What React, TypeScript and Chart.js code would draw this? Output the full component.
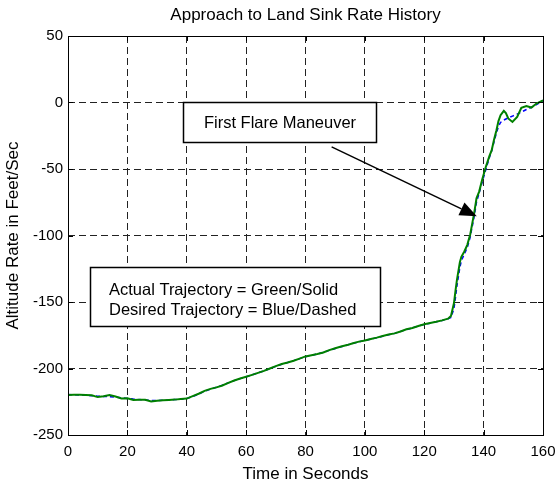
import React, { useEffect, useRef } from "react";
import { Chart, registerables } from "chart.js";

Chart.register(...registerables);

const chartTitle = "Approach to Land Sink Rate History";
const xAxisTitle = "Time in Seconds";
const yAxisTitle = "Altitude Rate in Feet/Sec";
const flareLabel = "First Flare Maneuver";
const noteLines = ["Actual Trajectory = Green/Solid", "Desired Trajectory = Blue/Dashed"];

const xTicks = [0, 20, 40, 60, 80, 100, 120, 140, 160];
const yTicks = [-250, -200, -150, -100, -50, 0, 50];

const timeSec = [
  0, 2, 4, 6, 8, 10, 12, 14, 16, 18, 20, 22, 24, 26, 28, 30, 32, 34, 36, 38,
  40, 42, 44, 46, 48, 50, 52, 54, 56, 58, 60, 62, 64, 66, 68, 70, 72, 74, 76, 78,
  80, 82, 84, 86, 88, 90, 92, 94, 96, 98, 100, 102, 104, 106, 108, 110, 112, 114, 116, 118,
  120, 122, 124, 126, 128, 129, 130, 130.5, 131, 132, 132.5, 133.5, 134.5, 135.5, 136, 136.8, 137.6, 138.5, 139.5, 140.8,
  142, 142.7, 143.5, 144.3, 145, 145.7, 146.8, 147.5, 148.3, 149.7, 151.3, 152.7, 154.4, 156.1, 157.8, 160,
];

const actualRate = [
  -220, -219.8, -219.8, -220, -220.2, -221.5, -220.8, -219.9, -221, -222.5, -222.4, -223.6, -223.5, -223.5, -224.8, -224.3, -223.8, -223.6, -223.4, -223,
  -222.6, -220.8, -219, -216.8, -215.3, -214.2, -212.8, -210.8, -209, -207.5, -206.2, -204.8, -203.3, -201.8, -200, -198.2, -196.6, -195.5, -194.2, -192.6,
  -190.9, -190, -189.1, -188, -186.2, -184.8, -183.4, -182.4, -181, -179.8, -178.9, -177.8, -176.8, -175.5, -174.5, -173.6, -172.2, -170.5, -169.5, -168,
  -166.7, -165.8, -164.9, -163.8, -162.5, -160.5, -151, -142, -133.5, -120, -116, -112, -107, -99, -93, -83.4, -72, -67, -58, -48,
  -40, -36, -28, -21, -14, -9.6, -6.3, -8, -12, -14.6, -10.8, -4, -2.6, -3.8, -0.8, 1.5,
];

const desiredRate = [
  -219.6, -219.7, -219.9, -220.1, -220.4, -220.8, -221, -221.2, -221.5, -222, -222.5, -223, -223.4, -223.7, -224, -224.1, -223.9, -223.7, -223.4, -223.1,
  -222.6, -221, -219.2, -217.1, -215.5, -214.1, -212.6, -210.8, -209.1, -207.6, -206.2, -204.8, -203.3, -201.8, -200.1, -198.4, -196.8, -195.5, -194.1, -192.6,
  -191.1, -190.1, -189.1, -187.9, -186.4, -185, -183.6, -182.4, -181.1, -180, -178.9, -177.9, -176.9, -175.7, -174.6, -173.6, -172.2, -170.7, -169.5, -168.1,
  -166.9, -165.9, -164.9, -163.9, -162.7, -161.6, -155, -147, -138, -124, -119, -114, -109, -101, -95, -86, -75, -68, -60, -50,
  -41, -36.5, -29.5, -23, -18, -15, -13.2, -12.4, -11.6, -10.2, -8.7, -7.2, -5.3, -3.6, -1.6, 1.5,
];

// annotation anchors in data units
const flareBox = { x0: 38.8, x1: 103.7, y0: 0, y1: -29.6 };
const flareArrow = { fromX: 88.8, fromY: -33.4, toX: 137.7, toY: -85.5 };
const noteBox = { x0: 7.4, x1: 105, y0: -123.6, y1: -168.1, textX: 13.8, lineY: [-140.3, -155.6] };

const FONT = "'Liberation Sans', Arial, sans-serif";

const framePlugin = {
  id: "matlabFrame",
  afterDraw(chart: any) {
    const { ctx, chartArea: a, scales } = chart;
    const sx = scales.x;
    const sy = scales.y;
    ctx.save();
    ctx.strokeStyle = "#000";
    ctx.lineWidth = 1;
    ctx.setLineDash([]);
    ctx.beginPath();
    for (const v of xTicks) {
      const px = Math.round(sx.getPixelForValue(v)) + 0.5;
      ctx.moveTo(px, a.bottom);
      ctx.lineTo(px, a.bottom - 5);
      ctx.moveTo(px, a.top);
      ctx.lineTo(px, a.top + 5);
    }
    for (const v of yTicks) {
      const py = Math.round(sy.getPixelForValue(v)) + 0.5;
      ctx.moveTo(a.left, py);
      ctx.lineTo(a.left + 5, py);
      ctx.moveTo(a.right, py);
      ctx.lineTo(a.right - 5, py);
    }
    ctx.stroke();
    ctx.strokeRect(Math.round(a.left) + 0.5, Math.round(a.top) + 0.5, Math.round(a.right - a.left), Math.round(a.bottom - a.top));

    const X = (v: number) => sx.getPixelForValue(v);
    const Y = (v: number) => sy.getPixelForValue(v);

    const fx0 = Math.round(X(flareBox.x0)) + 0.5;
    const fx1 = Math.round(X(flareBox.x1)) + 0.5;
    const fy0 = Math.round(Y(flareBox.y0)) + 0.5;
    const fy1 = Math.round(Y(flareBox.y1)) + 0.5;
    ctx.fillStyle = "#fff";
    ctx.fillRect(fx0, fy0, fx1 - fx0, fy1 - fy0);
    ctx.lineWidth = 1.5;
    ctx.strokeRect(fx0, fy0, fx1 - fx0, fy1 - fy0);
    ctx.fillStyle = "#000";
    ctx.font = `16.5px ${FONT}`;
    ctx.textAlign = "center";
    ctx.textBaseline = "middle";
    ctx.fillText(flareLabel, (fx0 + fx1) / 2, (fy0 + fy1) / 2 + 1);

    const ax0 = X(flareArrow.fromX), ay0 = Y(flareArrow.fromY);
    const ax1 = X(flareArrow.toX), ay1 = Y(flareArrow.toY);
    const ang = Math.atan2(ay1 - ay0, ax1 - ax0);
    const headLen = 17, headHalf = 7;
    const bx = ax1 - headLen * Math.cos(ang), by = ay1 - headLen * Math.sin(ang);
    ctx.lineWidth = 1.5;
    ctx.beginPath();
    ctx.moveTo(ax0, ay0);
    ctx.lineTo(bx, by);
    ctx.stroke();
    ctx.beginPath();
    ctx.moveTo(ax1, ay1);
    ctx.lineTo(bx + headHalf * Math.sin(ang), by - headHalf * Math.cos(ang));
    ctx.lineTo(bx - headHalf * Math.sin(ang), by + headHalf * Math.cos(ang));
    ctx.closePath();
    ctx.fill();

    const nx0 = Math.round(X(noteBox.x0)) + 0.5;
    const nx1 = Math.round(X(noteBox.x1)) + 0.5;
    const ny0 = Math.round(Y(noteBox.y0)) + 0.5;
    const ny1 = Math.round(Y(noteBox.y1)) + 0.5;
    ctx.fillStyle = "#fff";
    ctx.fillRect(nx0, ny0, nx1 - nx0, ny1 - ny0);
    ctx.lineWidth = 1.5;
    ctx.strokeRect(nx0, ny0, nx1 - nx0, ny1 - ny0);
    ctx.fillStyle = "#000";
    ctx.textAlign = "left";
    noteLines.forEach((t, i) => ctx.fillText(t, X(noteBox.textX), Y(noteBox.lineY[i]) + 1));
    ctx.restore();
  },
};

export default function App() {
  const ref = useRef<HTMLCanvasElement | null>(null);
  useEffect(() => {
    if (!ref.current) return;
    const chart = new Chart(ref.current, {
      type: "line",
      data: {
        labels: timeSec,
        datasets: [
          {
            label: "Actual",
            data: timeSec.map((t, i) => ({ x: t, y: actualRate[i] })),
            borderColor: "#008000",
            borderWidth: 2,
            pointRadius: 0,
            tension: 0,
            fill: false,
          },
          {
            label: "Desired",
            data: timeSec.map((t, i) => ({ x: t, y: desiredRate[i] })),
            borderColor: "#0000ff",
            borderWidth: 1.5,
            borderDash: [4, 3],
            pointRadius: 0,
            tension: 0,
            fill: false,
          },
        ],
      },
      options: {
        responsive: false,
        animation: false,
        layout: { padding: { left: 0, right: 0, top: 0, bottom: 0 } },
        plugins: {
          legend: { display: false },
          tooltip: { enabled: false },
          title: {
            display: true,
            fullSize: false,
            text: chartTitle,
            color: "#000",
            font: { family: FONT, size: 17, weight: "normal" },
            padding: { top: 5.3, bottom: 10.3 },
          },
        },
        scales: {
          x: {
            type: "linear",
            min: 0,
            max: 160,
            afterFit: (s: any) => { s.height = 50; s.paddingRight = 15; s.paddingLeft = 0; },
            afterBuildTicks: (s: any) => { s.ticks = xTicks.map((v) => ({ value: v })); },
            ticks: { color: "#000", font: { family: FONT, size: 15 }, padding: 8, maxRotation: 0, autoSkip: false },
            grid: { color: "#222", lineWidth: 1, drawTicks: false },
            border: { display: false, dash: [7, 4] },
            title: { display: true, text: xAxisTitle, color: "#000", font: { family: FONT, size: 17 }, padding: { top: 0, bottom: 0.8 } },
          },
          y: {
            type: "linear",
            min: -250,
            max: 50,
            afterFit: (s: any) => { s.width = 68; },
            afterBuildTicks: (s: any) => { s.ticks = yTicks.map((v) => ({ value: v })); },
            ticks: { color: "#000", font: { family: FONT, size: 15 }, padding: 5, autoSkip: false },
            grid: { color: "#222", lineWidth: 1, drawTicks: false },
            border: { display: false, dash: [7, 4] },
            title: { display: true, text: yAxisTitle, color: "#000", font: { family: FONT, size: 17 }, padding: { top: 3.3, bottom: 0 } },
          },
        },
      },
      plugins: [framePlugin],
    } as any);
    return () => chart.destroy();
  }, []);
  return (
    <div style={{ position: "absolute", left: 0, top: 0, width: 558, height: 485, background: "#fff" }}>
      <canvas ref={ref} width={558} height={485} style={{ display: "block" }} />
    </div>
  );
}
